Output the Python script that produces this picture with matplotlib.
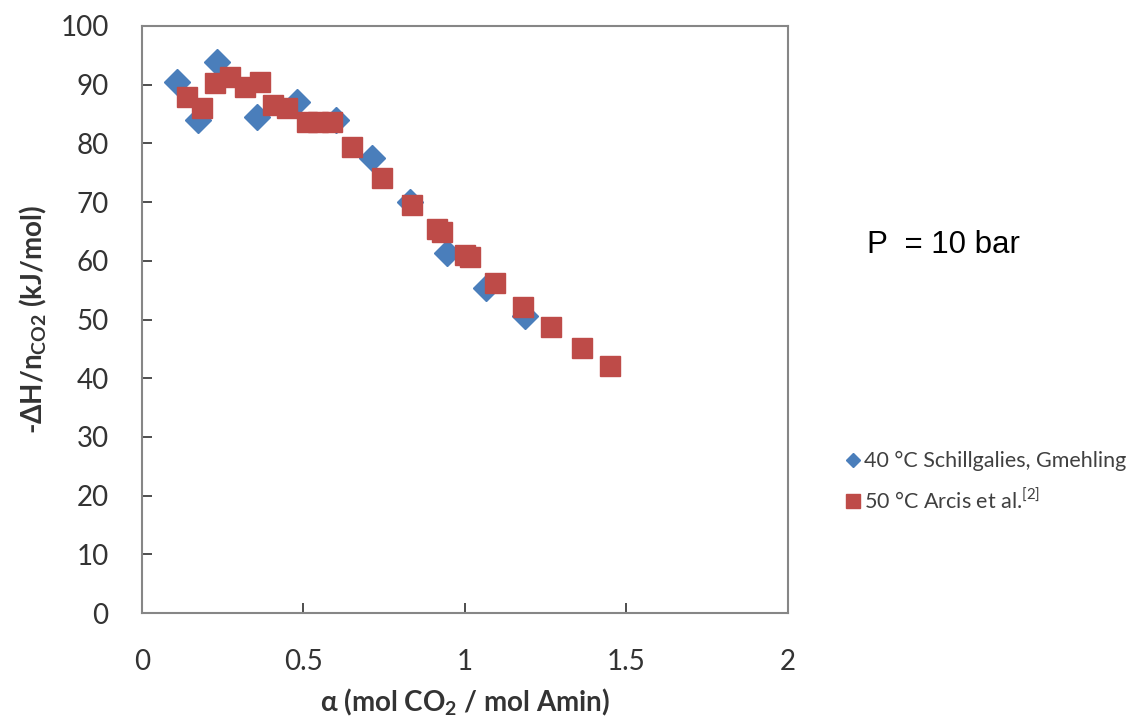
import matplotlib as mpl
import matplotlib.pyplot as plt
import numpy as np

mpl.rcParams.update(
    {
        "font.family": ["Lato", "DejaVu Sans"],
        "mathtext.fontset": "custom",
        "mathtext.rm": "Lato",
        "mathtext.bf": "Lato:bold",
        "figure.facecolor": "white",
    }
)

# 40 °C Schillgalies, Gmehling
alpha_40 = [0.11, 0.173, 0.232, 0.356, 0.48, 0.60, 0.712, 0.83, 0.944, 1.065, 1.186]
dh_40 = [90.5, 84.0, 93.8, 84.5, 87.0, 84.0, 77.5, 70.0, 61.3, 55.3, 50.6]

# 50 °C Arcis et al.
alpha_50 = [0.139, 0.186, 0.226, 0.272, 0.319, 0.365, 0.406, 0.449, 0.511, 0.545,
            0.588, 0.650, 0.743, 0.836, 0.913, 0.929, 1.0, 1.015, 1.093, 1.18,
            1.268, 1.362, 1.449]
dh_50 = [87.9, 86.0, 90.3, 91.3, 89.6, 90.5, 86.5, 86.0, 83.6, 83.6,
         83.6, 79.4, 74.1, 69.5, 65.5, 64.9, 61.0, 60.6, 56.2, 52.1,
         48.7, 45.1, 42.1]

BLUE = "#4A7EBB"
RED = "#BE4B48"
SPINE = "#868686"
TEXT = "#333333"

fig = plt.figure(figsize=(11.45, 7.26), dpi=100)
ax = fig.add_axes([0.124, 0.1556, 0.564, 0.8086])

ax.plot(alpha_40, dh_40, ls="none", marker="D", ms=13, color=BLUE, mec=BLUE, zorder=2,
        label="40 °C Schillgalies, Gmehling")
ax.plot(alpha_50, dh_50, ls="none", marker="s", ms=14, color=RED, mec=RED, zorder=3,
        label=r"50 °C Arcis et al.$^{[2]}$")

ax.set_xlim(0, 2)
ax.set_ylim(0, 100)
ax.set_xticks(np.arange(0, 2.01, 0.5))
ax.set_xticklabels(["0", "0.5", "1", "1.5", "2"])
ax.set_yticks(np.arange(0, 101, 10))
for s in ax.spines.values():
    s.set_color(SPINE)
    s.set_linewidth(1.5)
ax.tick_params(direction="in", length=7, width=1.3, color="#404040",
               labelsize=20, labelcolor=TEXT)
ax.tick_params(axis="y", pad=24)
ax.tick_params(axis="x", pad=26)

ax.set_xlabel(r"α (mol CO$_\mathbf{2}$ / mol Amin)", fontsize=20, fontweight="bold",
              color=TEXT, labelpad=8)
ax.set_ylabel(r"-ΔH/n$_\mathbf{CO2}$ (kJ/mol)", fontsize=20, fontweight="bold",
              color=TEXT, labelpad=8)

fig.text(0.757, 0.663, "P  = 10 bar", fontsize=22.5, family="Liberation Sans",
         color="black", va="center", ha="left")

leg = ax.legend(loc="center left", bbox_to_anchor=(0.722, 0.336),
                bbox_transform=fig.transFigure, frameon=False, fontsize=15.5,
                handlelength=0.6, handletextpad=0.25, labelspacing=0.8)
leg.legend_handles[0].set_markersize(7)
leg.legend_handles[1].set_markersize(10)
for t in leg.get_texts():
    t.set_color("#404040")

fig.savefig("out.png", dpi=100)
